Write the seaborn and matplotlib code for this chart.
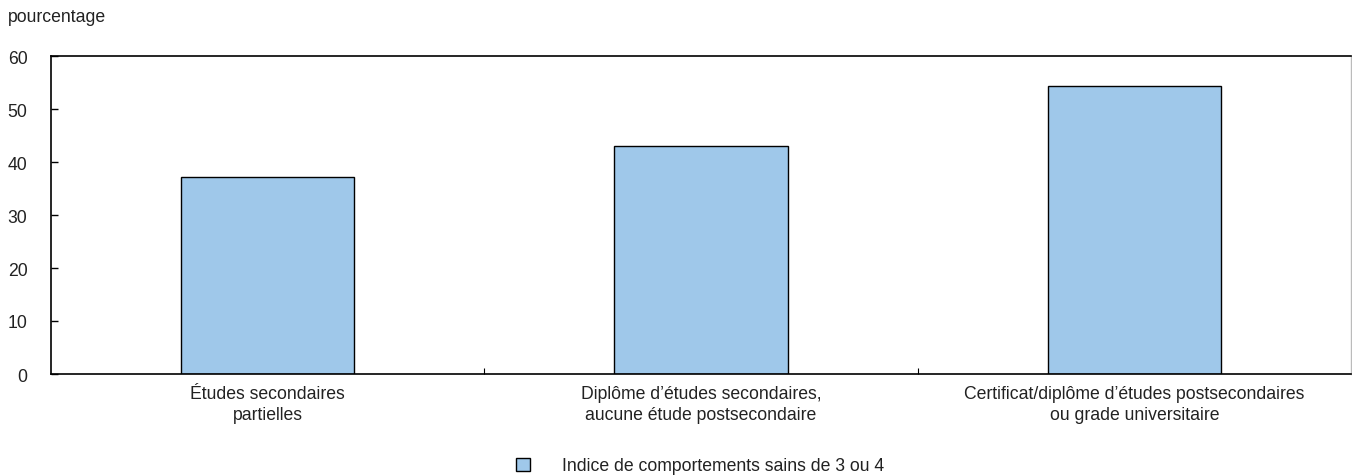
import matplotlib
matplotlib.use("Agg")
import matplotlib.pyplot as plt
import matplotlib.patches as mpatches
from matplotlib.ticker import FixedLocator
import seaborn as sns
import pandas as pd

categories = ["Études secondaires\npartielles",
              "Diplôme d\u2019études secondaires,\naucune étude postsecondaire",
              "Certificat/diplôme d\u2019études postsecondaires\nou grade universitaire"]
values = [37.2, 43.0, 54.3]
series_name = "Indice de comportements sains de 3 ou 4"
y_ticks = [0, 10, 20, 30, 40, 50, 60]

bar_color = "#9fc8ea"
fs = 12.7

sns.set_style("white")
plt.rcParams["font.family"] = ["Liberation Sans", "DejaVu Sans"]
plt.rcParams["text.color"] = "#222222"

df = pd.DataFrame({"cat": categories, "val": values})

fig = plt.figure(figsize=(13.52, 4.77), dpi=100)
ax = fig.add_axes([51 / 1352, 1 - 375 / 477, 1300 / 1352, 318 / 477])

sns.barplot(data=df, x="cat", y="val", color=bar_color, width=0.4,
            edgecolor="black", linewidth=1.0, saturation=1, ax=ax)

ax.set_ylim(0, 60)
ax.set_xlim(-0.5, 2.5)
ax.set_yticks(y_ticks)
ax.tick_params(axis="y", direction="in", length=5, width=1, colors="black",
               labelcolor="#222222", labelsize=fs, pad=17, left=True)
ax.tick_params(axis="x", length=0, labelsize=fs, pad=8, labelcolor="#222222")
for lbl in ax.get_xticklabels():
    lbl.set_linespacing(1.3)
ax.xaxis.set_minor_locator(FixedLocator([0.5, 1.5]))
ax.tick_params(axis="x", which="minor", direction="in", length=4, width=0.8,
               bottom=True, colors="black")
ax.set_xlabel("")
ax.set_ylabel("")

for side in ["left", "bottom", "top"]:
    ax.spines[side].set_color("black")
    ax.spines[side].set_linewidth(1.2)
ax.spines["right"].set_color("#bbbbbb")
ax.spines["right"].set_linewidth(1)

fig.text(8 / 1352, 1 - 18 / 477, "pourcentage", fontsize=fs, va="center", ha="left")

handle = mpatches.Patch(facecolor=bar_color, edgecolor="black", linewidth=1)
fig.legend([handle], [series_name], loc="center", bbox_to_anchor=(0.518, 1 - 467 / 477),
           frameon=False, fontsize=fs, handlelength=0.8, handleheight=0.8,
           handletextpad=1.8, borderpad=0)

fig.savefig("out.png", dpi=100)
